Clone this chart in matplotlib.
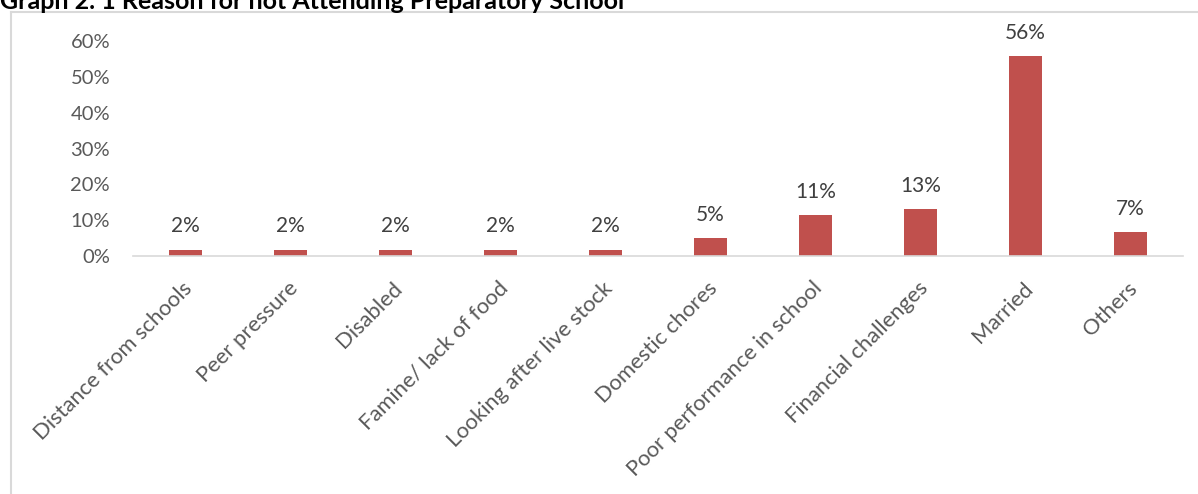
import matplotlib.pyplot as plt
import matplotlib.transforms as mtransforms
from matplotlib.lines import Line2D
from matplotlib.ticker import PercentFormatter

# reasons and shares
reasons = ["Distance from schools", "Peer pressure", "Disabled", "Famine/ lack of food",
           "Looking after live stock", "Domestic chores", "Poor performance in school",
           "Financial challenges", "Married", "Others"]
shares = [1.8, 1.8, 1.8, 1.8, 1.8, 5.1, 11.5, 13.2, 55.7, 6.7]
labels = ["2%", "2%", "2%", "2%", "2%", "5%", "11%", "13%", "56%", "7%"]

plt.rcParams["font.family"] = ["Lato", "DejaVu Sans"]

fig = plt.figure(figsize=(11.98, 4.94), dpi=100)
ax = fig.add_axes([133 / 1198, 1 - 256 / 494, 1050 / 1198, 215 / 494])

x = range(len(reasons))
bars = ax.bar(x, shares, width=0.31, color="#C0504D", zorder=2)
for b, lab in zip(bars, labels):
    ax.annotate(lab, (b.get_x() + b.get_width() / 2, b.get_height()),
                xytext=(0, 9.5), textcoords="offset points", ha="center", va="bottom",
                fontsize=15, color="#404040")

ax.set_xlim(-0.5, len(reasons) - 0.5)
ax.set_ylim(0, 60)
ax.set_yticks(range(0, 61, 10))
ax.yaxis.set_major_formatter(PercentFormatter(decimals=0))
ax.set_xticks(list(x))
ax.set_xticklabels(reasons, rotation=45, ha="right", va="center", rotation_mode="anchor")
ax.tick_params(axis="both", length=0, labelcolor="#595959")
ax.tick_params(axis="x", pad=21, labelsize=15.8)
ax.tick_params(axis="y", pad=16.5, labelsize=14.5)

# nudge rotated labels a bit to the right, like the original
shift = mtransforms.ScaledTranslation(4 / 100, 0, fig.dpi_scale_trans)
for t in ax.get_xticklabels():
    t.set_transform(t.get_transform() + shift)

for s in ["top", "right", "left"]:
    ax.spines[s].set_visible(False)
ax.spines["bottom"].set_color("#d9d9d9")
ax.spines["bottom"].set_linewidth(1.2)

# chart border (cut by the image edges)
fig.add_artist(Line2D([11 / 1198, 11 / 1198], [0, 1 - 12 / 494], color="#d9d9d9", lw=1.5))
fig.add_artist(Line2D([11 / 1198, 1], [1 - 12 / 494, 1 - 12 / 494], color="#d9d9d9", lw=1.5))

fig.text(0.0, 1 - 9 / 494, "Graph 2. 1 Reason for not Attending Preparatory School",
         fontsize=18, fontweight="bold", color="black", ha="left", va="baseline")

fig.savefig("out.png", dpi=100, facecolor="white")
